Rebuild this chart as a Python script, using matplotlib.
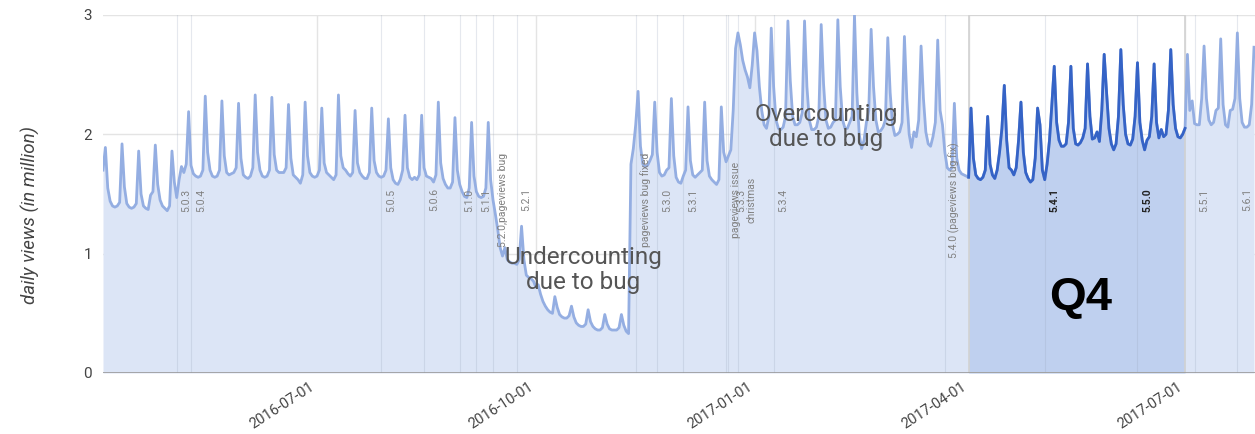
import matplotlib
matplotlib.use("Agg")
import matplotlib.pyplot as plt
import matplotlib.dates as mdates
import matplotlib.transforms as mtransforms
import numpy as np
import pandas as pd

plt.rcParams["font.family"] = ["Roboto", "DejaVu Sans"]

# daily views (millions), first value is Sat 2016-04-02, then weekly rows Sun..Sat
START = "2016-04-02"
views_spring_2016 = [
    1.70,
    1.89, 1.55, 1.44, 1.40, 1.39, 1.40, 1.43,
    1.92, 1.56, 1.42, 1.39, 1.38, 1.39, 1.42,
    1.86, 1.50, 1.40, 1.38, 1.37, 1.49, 1.52,
    1.91, 1.58, 1.45, 1.40, 1.38, 1.36, 1.40,
    1.86, 1.60, 1.47, 1.62, 1.73, 1.68, 1.75,
    2.19, 1.74, 1.67, 1.65, 1.64, 1.65, 1.70,
    2.32, 1.85, 1.70, 1.65, 1.64, 1.65, 1.70,
    2.28, 1.82, 1.68, 1.66, 1.67, 1.68, 1.72,
    2.26, 1.80, 1.66, 1.64, 1.63, 1.65, 1.72,
    2.33, 1.85, 1.70, 1.65, 1.64, 1.65, 1.70,
    2.31, 1.83, 1.70, 1.68, 1.68, 1.68, 1.72,
    2.25, 1.80, 1.66, 1.64, 1.62, 1.59, 1.66,
    2.27, 1.82, 1.68, 1.65, 1.64, 1.65, 1.70,
]
views_summer_2016 = [
    2.22, 1.76, 1.68, 1.66, 1.64, 1.62, 1.66,
    2.33, 1.82, 1.72, 1.70, 1.67, 1.65, 1.68,
    2.20, 1.76, 1.68, 1.65, 1.63, 1.63, 1.68,
    2.22, 1.78, 1.68, 1.65, 1.64, 1.65, 1.70,
    2.13, 1.72, 1.62, 1.59, 1.58, 1.62, 1.70,
    2.16, 1.72, 1.64, 1.62, 1.64, 1.62, 1.66,
    2.16, 1.72, 1.65, 1.64, 1.63, 1.60, 1.66,
    2.27, 1.76, 1.63, 1.58, 1.55, 1.55, 1.60,
    2.14, 1.70, 1.58, 1.52, 1.48, 1.47, 1.55,
    2.10, 1.65, 1.52, 1.48, 1.47, 1.48, 1.55,
    2.10, 1.62, 1.45, 1.33, 1.20, 1.05, 0.98,
]
views_undercount = [
    1.05, 0.95, 0.93, 0.92, 0.92, 0.91, 0.95,
    1.23, 0.95, 0.82, 0.80, 0.79, 0.77, 0.72,
    0.74, 0.66, 0.60, 0.56, 0.53, 0.51, 0.50,
    0.64, 0.55, 0.49, 0.47, 0.46, 0.46, 0.48,
    0.56, 0.47, 0.42, 0.40, 0.39, 0.39, 0.41,
    0.53, 0.43, 0.39, 0.37, 0.36, 0.36, 0.38,
    0.49, 0.41, 0.37, 0.36, 0.36, 0.36, 0.38,
    0.49, 0.40, 0.35, 0.33, 1.75, 1.88, 2.08,
]
views_late_2016 = [
    2.36, 1.90, 1.75, 1.73, 1.74, 1.78, 1.83,
    2.27, 1.85, 1.68, 1.65, 1.66, 1.70, 1.72,
    2.30, 1.82, 1.64, 1.60, 1.59, 1.65, 1.70,
    2.23, 1.78, 1.66, 1.64, 1.66, 1.68, 1.70,
    2.27, 1.78, 1.65, 1.62, 1.60, 1.58, 1.62,
    2.23, 1.85, 1.77, 1.82, 1.87, 2.20, 2.72,
    2.85, 2.75, 2.62, 2.54, 2.48, 2.39, 2.58,
]
views_overcount = [
    2.85, 2.70, 2.40, 2.20, 2.08, 2.05, 2.15,
    2.89, 2.40, 2.12, 2.05, 2.04, 2.06, 2.15,
    2.95, 2.45, 2.15, 2.08, 2.08, 2.10, 2.18,
    2.95, 2.40, 2.12, 2.04, 2.04, 2.06, 2.15,
    2.92, 2.42, 2.12, 2.05, 2.06, 2.10, 2.12,
    2.96, 2.40, 2.12, 2.05, 2.05, 2.10, 2.15,
    3.00, 2.35, 2.00, 1.88, 1.95, 2.10, 2.20,
    2.88, 2.40, 2.12, 2.02, 2.03, 2.06, 2.12,
    2.81, 2.35, 2.08, 1.99, 2.00, 2.02, 2.10,
    2.82, 2.30, 2.00, 1.89, 2.02, 1.98, 2.12,
    2.74, 2.30, 2.02, 1.92, 1.90, 1.98, 2.10,
    2.79, 2.20, 2.08, 1.85, 1.72, 1.70, 1.72,
    2.26, 1.80, 1.70, 1.67, 1.66, 1.65, 1.64,
]
views_2017 = [
    2.22, 1.80, 1.66, 1.63, 1.62, 1.64, 1.70,
    2.15, 1.75, 1.66, 1.63, 1.70, 1.85, 2.05,
    2.41, 1.95, 1.72, 1.70, 1.66, 1.72, 1.95,
    2.27, 1.85, 1.68, 1.63, 1.60, 1.62, 1.80,
    2.22, 2.08, 1.70, 1.62, 1.75, 1.95, 2.25,
    2.57, 2.10, 1.95, 1.90, 1.90, 1.92, 2.10,
    2.57, 2.05, 1.92, 1.91, 1.93, 1.97, 2.05,
    2.59, 2.15, 1.96, 1.97, 2.02, 1.94, 2.20,
    2.67, 2.35, 2.05, 1.92, 1.87, 1.92, 2.15,
    2.71, 2.25, 2.00, 1.92, 1.91, 1.96, 2.15,
    2.60, 2.10, 1.95, 1.87, 1.95, 1.98, 2.15,
    2.59, 2.10, 1.97, 2.04, 1.98, 2.00, 2.20,
    2.71, 2.25, 2.05, 1.98, 1.97, 2.00, 2.05,
    2.67, 2.20, 2.28, 2.09, 2.08, 2.08, 2.30,
    2.74, 2.30, 2.12, 2.08, 2.10, 2.20, 2.22,
    2.80, 2.25, 2.08, 2.06, 2.20, 2.21, 2.30,
    2.85, 2.30, 2.10, 2.06, 2.06, 2.08, 2.25,
    2.73,
]

Q4_START, Q4_END = "2017-04-01", "2017-07-01"

release_dates = [
    "2016-05-03", "2016-05-09", "2016-07-28", "2016-08-15", "2016-08-30",
    "2016-09-06", "2016-09-13", "2016-09-23", "2016-11-12", "2016-11-21",
    "2016-12-02", "2016-12-20", "2016-12-21", "2016-12-25", "2017-01-09",
    "2017-03-22", "2017-05-03", "2017-06-11", "2017-07-05", "2017-07-23",
]
release_labels = [
    "5.0.3", "5.0.4", "5.0.5", "5.0.6", "5.1.0",
    "5.1.1", "5.2.0,pageviews bug", "5.2.1", "pageviews bug fixed", "5.3.0",
    "5.3.1", "pageviews issue", "5.3.3", "christmas", "5.3.4",
    "5.4.0 (pageviews bug fix)", "5.4.1", "5.5.0", "5.5.1", "5.6.1",
]
x_ticks = ["2016-07-01", "2016-10-01", "2017-01-01", "2017-04-01", "2017-07-01"]

views = np.array(views_spring_2016 + views_summer_2016 + views_undercount
                 + views_late_2016 + views_overcount + views_2017)
dates = pd.date_range(START, periods=len(views), freq="D")

LIGHT_LINE = "#94aee2"
LIGHT_FILL = "#dce5f6"
DARK_LINE = "#3563c6"
DARK_FILL = "#bfd0ef"
GRID = "#e4e4e4"

fig = plt.figure(figsize=(12.55, 4.34), dpi=100)
ax = fig.add_axes([103 / 1255, 61 / 434, 1152 / 1255, 358 / 434])

ax.fill_between(dates, 0, views, color=LIGHT_FILL, lw=0, zorder=1)
ax.plot(dates, views, color=LIGHT_LINE, lw=2.0, zorder=3, solid_joinstyle="round")

q4 = (dates >= Q4_START) & (dates <= Q4_END)
ax.fill_between(dates[q4], 0, views[q4], color=DARK_FILL, lw=0, zorder=2)
ax.plot(dates[q4], views[q4], color=DARK_LINE, lw=2.0, zorder=4, solid_joinstyle="round")

# release / event markers; the reference draws "5.3.3" on top of "pageviews issue"
for d, lab in zip(release_dates, release_labels):
    dt = pd.Timestamp(d)
    ax.axvline(dt, color="#9aa6bd", alpha=0.25, lw=0.8, zorder=2.5)
    dark = lab in ("5.4.1", "5.5.0")
    dx = {"5.3.3": 9, "christmas": 10}.get(lab, 7)
    ax.annotate(lab, xy=(mdates.date2num(dt), 1.45), xytext=(dx, 0),
                textcoords="offset points", rotation=90, ha="center", va="center",
                fontsize=7.5, color="#222222" if dark else "#808080",
                fontweight="bold" if dark else "normal", zorder=5)

ax.text(pd.Timestamp("2016-10-21"), 0.86, "Undercounting\ndue to bug", ha="center",
        va="center", fontsize=17.5, color="#555555", linespacing=1.12, zorder=6)
ax.text(pd.Timestamp("2017-01-31"), 2.06, "Overcounting\ndue to bug", ha="center",
        va="center", fontsize=17.5, color="#555555", linespacing=1.12, zorder=6)
ax.text(pd.Timestamp("2017-05-18"), 0.63, "Q4", ha="center", va="center",
        fontsize=34, fontweight="bold", color="black", zorder=6,
        family=["Liberation Sans", "DejaVu Sans"])

ax.add_patch(plt.Rectangle((mdates.date2num(pd.Timestamp(Q4_START)), 0),
                           mdates.date2num(pd.Timestamp(Q4_END)) - mdates.date2num(pd.Timestamp(Q4_START)),
                           3, fill=False, edgecolor="#d2d2d2", lw=1.2, zorder=2.6))

ax.set_xlim(pd.Timestamp(START), pd.Timestamp("2017-07-30 10:00"))
ax.set_ylim(0, 3)
ax.set_yticks([0, 1, 2, 3])
ax.set_xticks([pd.Timestamp(t) for t in x_ticks])
ax.set_xticklabels(x_ticks, rotation=33, ha="right", fontsize=10.5, color="#444444")
shift = mtransforms.ScaledTranslation(8 / 100, 0, fig.dpi_scale_trans)
for lbl in ax.get_xticklabels():
    lbl.set_transform(lbl.get_transform() + shift)
ax.tick_params(axis="both", length=0)
ax.tick_params(axis="y", labelsize=11, labelcolor="#444444", pad=8)
ax.tick_params(axis="x", pad=5)
ax.grid(True, color=GRID, lw=1, zorder=0)
ax.set_axisbelow(True)
for s in ax.spines.values():
    s.set_visible(False)
ax.axhline(0, color="#9a9a9a", lw=1.2, zorder=5)

ax.set_ylabel("daily views (in million)", fontsize=13.5, style="italic", color="#444444")
ax.yaxis.set_label_coords(-0.055, 0.44)

fig.savefig("out.png", dpi=100)
